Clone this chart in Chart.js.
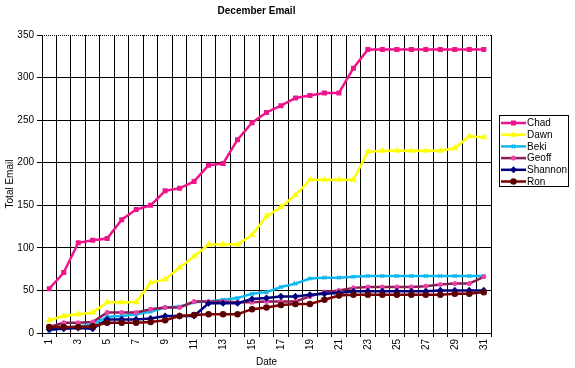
<!DOCTYPE html>
<html>
<head>
<meta charset="utf-8">
<script src="https://cdn.jsdelivr.net/npm/chart.js@4"></script>
<style>
  html, body { margin: 0; padding: 0; background: #fff; }
  canvas { display: block; }
</style>
</head>
<body>
<canvas id="chart" width="575" height="368"></canvas>
<script>
// days of December
const days = ['1','2','3','4','5','6','7','8','9','10','11','12','13','14','15','16',
              '17','18','19','20','21','22','23','24','25','26','27','28','29','30','31'];
const yTicks = [0, 50, 100, 150, 200, 250, 300, 350];

// running totals per person
const chad    = [52, 71, 106, 109, 111, 133, 145, 150, 167, 170, 178, 197, 199, 227, 247, 259,
                 267, 276, 279, 282, 282, 311, 333, 333, 333, 333, 333, 333, 333, 333, 333];
const dawn    = [15, 20, 22, 24, 36, 36, 36, 59, 63, 77, 90, 104, 104, 104, 115, 137,
                 148, 162, 180, 180, 180, 180, 213, 214, 214, 214, 214, 214, 217, 231, 230];
const beki    = [3, 6, 8, 10, 19, 20, 22, 25, 30, 31, 36, 37, 39, 41, 46, 48,
                 54, 58, 64, 65, 65, 66, 67, 67, 67, 67, 67, 67, 67, 67, 67];
const geoff   = [7, 12, 12, 13, 24, 24, 24, 28, 30, 30, 37, 37, 37, 36, 36, 37,
                 37, 37, 43, 48, 50, 53, 54, 54, 54, 54, 55, 57, 58, 58, 66];
const shannon = [4, 5, 6, 5, 16, 16, 16, 17, 20, 20, 20, 35, 35, 35, 40, 41,
                 43, 43, 45, 46, 47, 49, 49, 49, 49, 49, 49, 50, 50, 50, 50];
const ron     = [7, 7, 7, 8, 12, 12, 12, 13, 15, 20, 21, 22, 22, 22, 28, 30,
                 33, 34, 34, 39, 44, 45, 45, 45, 45, 45, 45, 45, 46, 46, 48];

const FONT = 'Arial, "Liberation Sans", sans-serif';

function series(label, data, color, pointStyle, markColor, order) {
    return {
        label: label,
        data: data,
        borderColor: color,
        backgroundColor: markColor,
        pointBackgroundColor: markColor,
        pointBorderColor: markColor,
        pointStyle: pointStyle,
        pointRadius: 2.5,
        pointBorderWidth: 1.5,
        borderWidth: 2.5,
        tension: 0,
        order: order,
        yAxisID: 'y'
    };
}

// dotted plot frame on top/right and a boxed legend at the right, like the old Excel chart
const framePlugin = {
    id: 'frame',
    beforeDatasetsDraw(chart) {
        const { ctx, chartArea: a } = chart;
        ctx.save();
        ctx.strokeStyle = '#000';
        ctx.lineWidth = 1;
        ctx.setLineDash([1, 1]);
        ctx.beginPath();
        ctx.moveTo(a.left, a.top + 0.5);
        ctx.lineTo(a.right + 0.5, a.top + 0.5);
        ctx.lineTo(a.right + 0.5, a.bottom);
        ctx.stroke();
        ctx.restore();
    },
    afterDraw(chart) {
        const ctx = chart.ctx;
        const boxX = 499, boxY = 115, boxW = 69, boxH = 71;
        ctx.save();
        ctx.fillStyle = '#fff';
        ctx.fillRect(boxX, boxY, boxW, boxH);
        ctx.strokeStyle = '#000';
        ctx.lineWidth = 1;
        ctx.strokeRect(boxX + 0.5, boxY + 0.5, boxW, boxH);
        ctx.font = '10px ' + FONT;
        ctx.textBaseline = 'middle';
        chart.data.datasets.forEach((ds, i) => {
            const y = boxY + 8 + i * 11.7;
            ctx.strokeStyle = ds.borderColor;
            ctx.lineWidth = 2.5;
            ctx.beginPath();
            ctx.moveTo(boxX + 2, y);
            ctx.lineTo(boxX + 27, y);
            ctx.stroke();
            ctx.fillStyle = ds.pointBackgroundColor;
            ctx.strokeStyle = ds.pointBorderColor;
            ctx.lineWidth = 1.5;
            Chart.helpers.drawPoint(ctx, {
                pointStyle: ds.pointStyle, radius: 2.5, rotation: 0, borderWidth: 1.5
            }, boxX + 14.5, y);
            ctx.fillStyle = '#000';
            ctx.fillText(ds.label, boxX + 28, y + 0.5);
        });
        ctx.restore();
    }
};

new Chart(document.getElementById('chart'), {
    type: 'line',
    data: {
        labels: days,
        datasets: [
            series('Chad', chad, '#F0148C', 'rect', '#F0148C', 6),
            series('Dawn', dawn, '#FFFF00', 'triangle', '#FFFF00', 5),
            series('Beki', beki, '#10B8F0', 'crossRot', '#10B8F0', 4),
            series('Geoff', geoff, '#8C1E55', 'star', '#F040A8', 3),
            series('Shannon', shannon, '#000080', 'rectRot', '#000080', 2),
            series('Ron', ron, '#800000', 'circle', '#5A0000', 1)
        ]
    },
    options: {
        responsive: false,
        animation: false,
        layout: { padding: { left: 0, right: 62, top: 0, bottom: 0 } },
        plugins: {
            legend: { display: false },
            tooltip: { enabled: false },
            title: {
                display: true,
                text: 'December Email',
                color: '#000',
                font: { family: FONT, size: 10, weight: 'bold' },
                padding: { top: 5, bottom: 18 }
            }
        },
        scales: {
            x: {
                offset: true,
                grid: {
                    offset: true,
                    color: ctx => ctx.index === days.length ? 'rgba(0,0,0,0)' : '#000',
                    lineWidth: 1,
                    tickLength: 4,
                    tickColor: '#000'
                },
                border: { color: '#000', width: 1 },
                ticks: {
                    autoSkip: false,
                    minRotation: 90,
                    maxRotation: 90,
                    padding: 2,
                    color: '#000',
                    font: { family: FONT, size: 10 },
                    callback: (v, i) => (i % 2 === 0 ? days[i] : '')
                },
                title: {
                    display: true,
                    text: 'Date',
                    color: '#000',
                    font: { family: FONT, size: 10 },
                    padding: { top: 5, bottom: 0 }
                },
                afterFit: scale => { scale.height = 35; }
            },
            y: {
                min: 0,
                max: 350,
                afterBuildTicks: scale => { scale.ticks = yTicks.map(v => ({ value: v })); },
                grid: {
                    color: ctx => ctx.tick && ctx.tick.value === 350 ? 'rgba(0,0,0,0)' : '#000',
                    lineWidth: 1,
                    tickLength: 5,
                    tickColor: '#000'
                },
                border: { color: '#000', width: 1 },
                ticks: {
                    padding: 3,
                    color: '#000',
                    font: { family: FONT, size: 10 }
                },
                title: {
                    display: true,
                    text: 'Total Email',
                    color: '#000',
                    font: { family: FONT, size: 10 },
                    padding: { top: 4, bottom: 0 }
                },
                afterFit: scale => { scale.width = 42; }
            },
            // empty spacer on the right so the title sits where the original has it
            spacer: {
                position: 'right',
                display: true,
                grid: { display: false },
                border: { display: false },
                ticks: { display: false },
                afterFit: scale => { scale.width = 22; }
            }
        }
    },
    plugins: [framePlugin]
});
</script>
</body>
</html>
